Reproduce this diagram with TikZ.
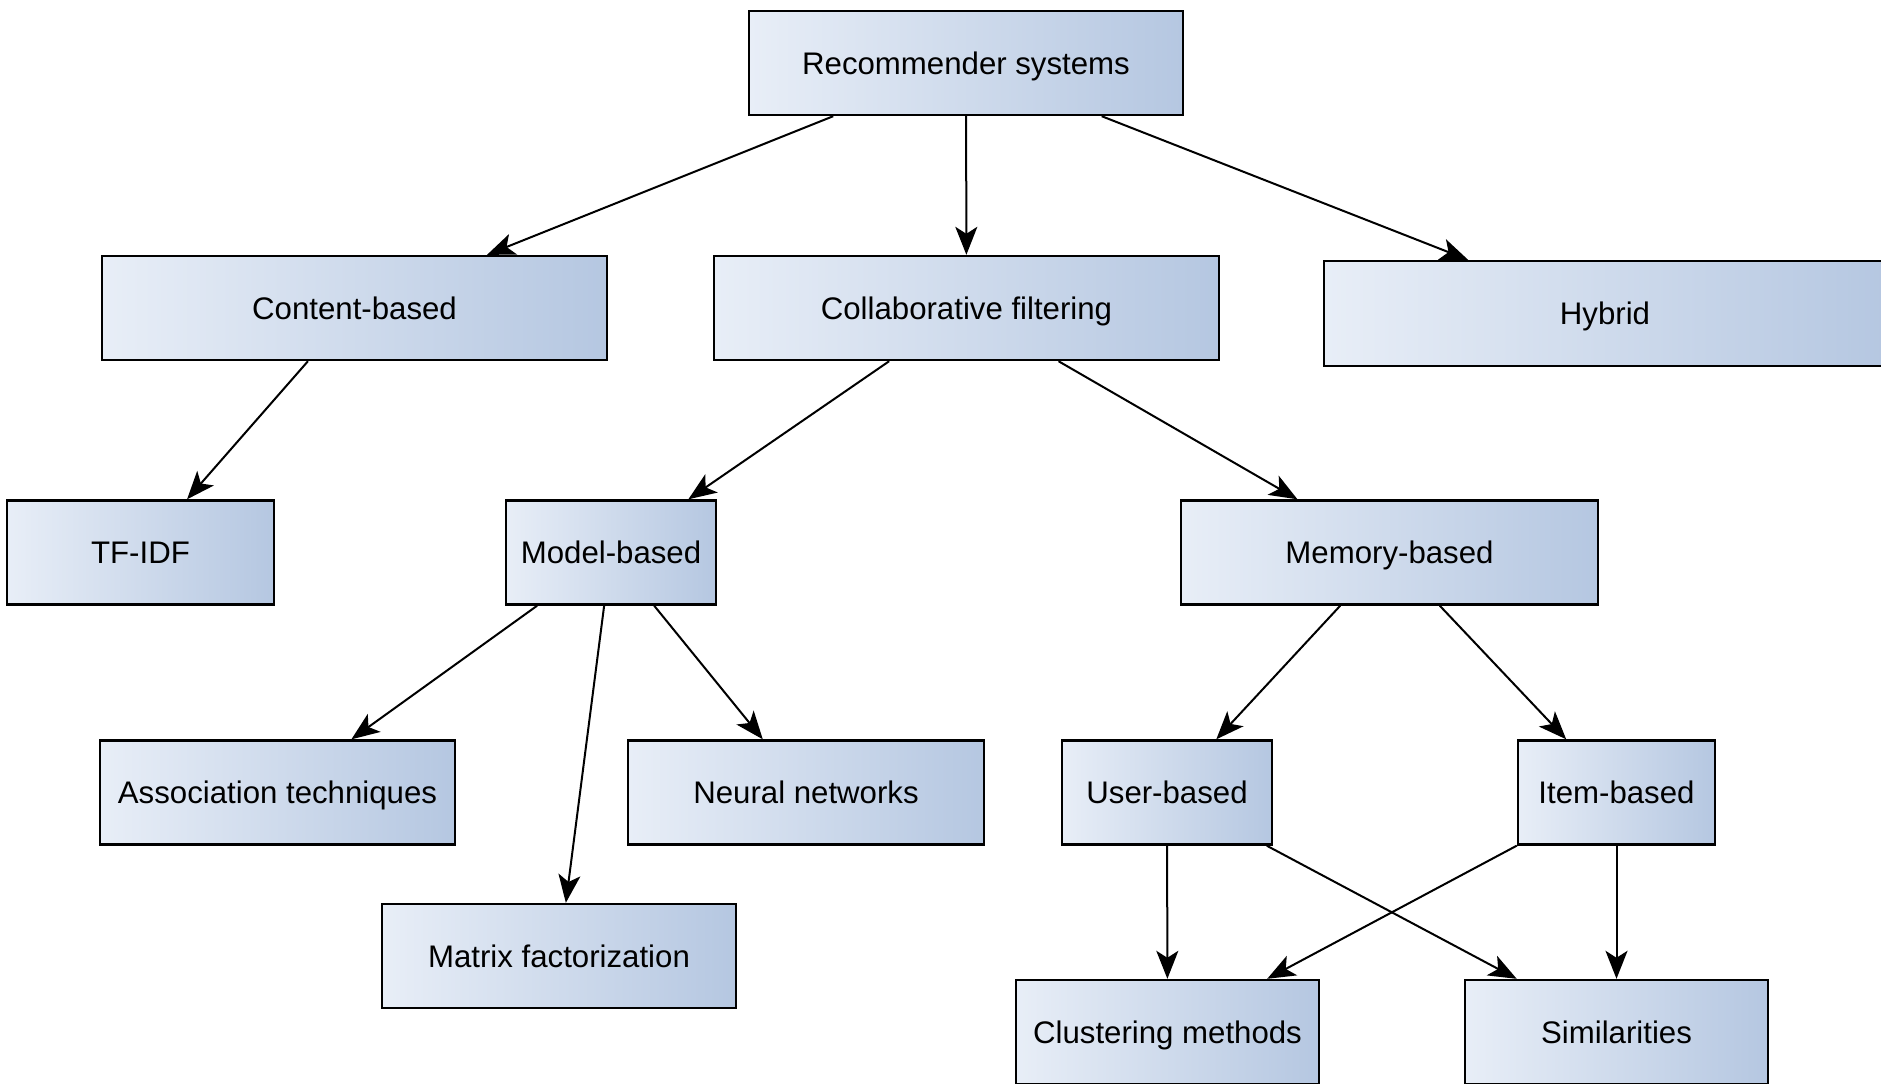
\documentclass[tikz,border=0pt]{standalone}
\usepackage{fontspec}
\setmainfont{Liberation Sans}
\usetikzlibrary{arrows.meta}
\definecolor{boxL}{HTML}{E8EEF7}
\definecolor{boxR}{HTML}{B5C7E1}
\begin{document}
\begin{tikzpicture}[x=0.5pt,y=-0.5pt,
  box/.style={draw=black, line width=1.2pt, left color=boxL, right color=boxR,
    inner sep=0pt, minimum height=52pt, text height=13pt, text depth=1.8pt,
    font=\fontsize{15.6}{18}\selectfont, text=black},
  arr/.style={-{Stealth[length=14pt,width=11pt,inset=3.5pt]}, line width=1pt, draw=black}]
\useasboundingbox (0,0) rectangle (1881,1083);
\clip (0,0) rectangle (1881,1083);
\node[box, minimum width=217pt] (rs) at (966,63) {Recommender systems};
\node[box, minimum width=252.5pt] (cb) at (354.5,308) {Content-based};
\node[box, minimum width=252.5pt] (cf) at (966.5,308) {Collaborative filtering};
\node[box, minimum width=281pt, minimum height=52.5pt] (hy) at (1605,313.5) {Hybrid};
\node[box, minimum width=133.5pt] (tf) at (140.5,552.5) {TF-IDF};
\node[box, minimum width=105pt] (mb) at (611,552.5) {Model-based};
\node[box, minimum width=208.5pt] (mem) at (1389.5,552.5) {Memory-based};
\node[box, minimum width=177.5pt] (at) at (277.5,792.5) {Association techniques};
\node[box, minimum width=178pt] (nn) at (806,792.5) {Neural networks};
\node[box, minimum width=177pt] (mf) at (559,956) {Matrix factorization};
\node[box, minimum width=105pt] (ub) at (1167,792.5) {User-based};
\node[box, minimum width=98.5pt] (ib) at (1616.5,792.5) {Item-based};
\node[box, minimum width=151.5pt] (cm) at (1167.5,1032) {Clustering methods};
\node[box, minimum width=151.5pt] (si) at (1616.5,1032) {Similarities};
\draw[arr] (rs) -- (cb);
\draw[arr] (rs) -- (cf);
\draw[arr] (rs) -- (hy);
\draw[arr] (cb) -- (tf);
\draw[arr] (cf) -- (mb);
\draw[arr] (cf) -- (mem);
\draw[arr] (mb) -- (at);
\draw[arr] (mb) -- (mf);
\draw[arr] (mb) -- (nn);
\draw[arr] (mem) -- (ub);
\draw[arr] (mem) -- (ib);
\draw[arr] (ub) -- (cm);
\draw[arr] (ub) -- (si);
\draw[arr] (ib) -- (cm);
\draw[arr] (ib) -- (si);
\end{tikzpicture}
\end{document}
